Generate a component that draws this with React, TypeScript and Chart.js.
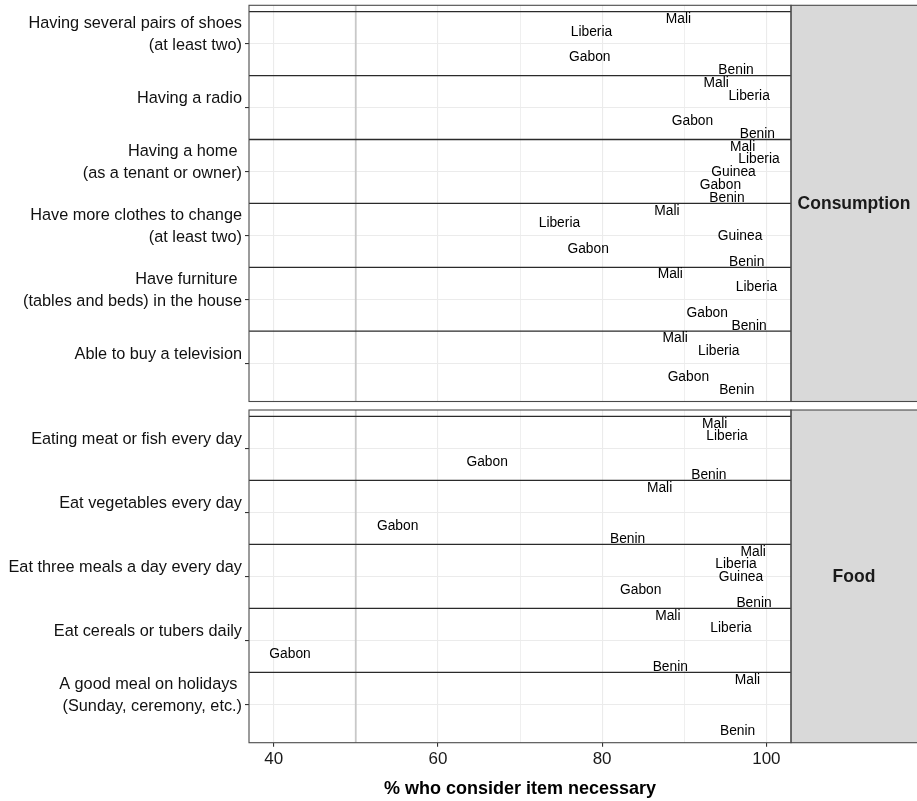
import React, { useEffect, useRef } from 'react';
import { Chart, registerables } from 'chart.js';

Chart.register(...registerables);

const FONT = "'Liberation Sans', Arial, Helvetica, sans-serif";
const W = 917;

const X_MIN = 37;
const X_MAX = 103;
const xTicks = [40, 50, 60, 70, 80, 90, 100];
const xMajorTicks = [40, 60, 80, 100];
const refLine = 50;
const xTitle = '% who consider item necessary';

const countries = ['Mali', 'Liberia', 'Guinea', 'Gabon', 'Benin'];
const countryOffsets = [-0.4, -0.2, 0, 0.2, 0.4];

// Consumption panel
const consumptionItems = [
  ['Having several pairs of shoes', '(at least two)', ''],
  ['Having a radio', ''],
  ['Having a home ', '(as a tenant or owner)', ''],
  ['Have more clothes to change', '(at least two)', ''],
  ['Have furniture ', '(tables and beds) in the house', ''],
  ['Able to buy a television', ''],
];
const consumptionMali = [89.3, 93.9, 97.1, 87.9, 88.3, 88.9];
const consumptionLiberia = [78.7, 97.9, 99.1, 74.8, 98.8, 94.2];
const consumptionGuinea = [null, null, 96.0, 96.8, null, null];
const consumptionGabon = [78.5, 91.0, 94.4, 78.3, 92.8, 90.5];
const consumptionBenin = [96.3, 98.9, 95.2, 97.6, 97.9, 96.4];

// Food panel
const foodItems = [
  ['Eating meat or fish every day', ''],
  ['Eat vegetables every day', ''],
  ['Eat three meals a day every day', ''],
  ['Eat cereals or tubers daily', ''],
  ['A good meal on holidays ', '(Sunday, ceremony, etc.)', ''],
];
const foodMali = [93.7, 87.0, 98.4, 88.0, 97.7];
const foodLiberia = [95.2, null, 96.3, 95.7, null];
const foodGuinea = [null, null, 96.9, null, null];
const foodGabon = [66.0, 55.1, 84.7, 42.0, null];
const foodBenin = [93.0, 83.1, 98.5, 88.3, 96.5];

type PanelOpts = {
  items: string[][];
  series: (number | null)[][];
  strip: string;
  showX: boolean;
  padTop: number;
  padBottom: number;
  xAxisHeight: number;
};

function buildConfig(o: PanelOpts): any {
  const n = o.items.length;
  const yMin = -0.6;
  const yMax = n - 0.4;
  const datasets: any[] = [];

  datasets.push({
    type: 'line',
    label: 'ref',
    data: [{ x: refLine, y: yMin }, { x: refLine, y: yMax }],
    borderColor: '#c8c8c8',
    borderWidth: 1.8,
    pointRadius: 0,
    order: 5,
  });

  o.items.forEach((_, i) => {
    datasets.push({
      type: 'line',
      label: 'sep',
      data: [{ x: X_MIN, y: i - 0.5 }, { x: X_MAX, y: i - 0.5 }],
      borderColor: '#2a2a2a',
      borderWidth: 1.3,
      pointRadius: 0,
      order: 4,
    });
  });

  countries.forEach((c, ci) => {
    const vals = o.series[ci];
    const pts: any[] = [];
    vals.forEach((v, i) => {
      if (v !== null) pts.push({ x: v, y: i + countryOffsets[ci] });
    });
    datasets.push({
      type: 'scatter',
      label: c,
      isCountry: true,
      data: pts,
      pointRadius: 0,
      pointHoverRadius: 0,
      order: 1,
    });
  });

  const textPlugin = {
    id: 'countryText',
    afterDatasetsDraw(chart: any) {
      const ctx = chart.ctx;
      ctx.save();
      const ca = chart.chartArea;
      ctx.beginPath();
      ctx.rect(ca.left, ca.top, ca.right - ca.left, ca.bottom - ca.top);
      ctx.clip();
      ctx.font = `13.8px ${FONT}`;
      ctx.fillStyle = '#000';
      ctx.textAlign = 'center';
      ctx.textBaseline = 'middle';
      chart.data.datasets.forEach((ds: any, di: number) => {
        if (!ds.isCountry) return;
        const meta = chart.getDatasetMeta(di);
        meta.data.forEach((el: any) => {
          ctx.fillText(ds.label, el.x, el.y + 1);
        });
      });
      ctx.restore();
    },
  };

  const framePlugin = {
    id: 'frame',
    afterDraw(chart: any) {
      const ctx = chart.ctx;
      const ca = chart.chartArea;
      ctx.save();
      ctx.fillStyle = '#d9d9d9';
      ctx.fillRect(ca.right, ca.top, W - ca.right + 5, ca.bottom - ca.top);
      ctx.strokeStyle = '#4a4a4a';
      ctx.lineWidth = 1.1;
      ctx.strokeRect(ca.right, ca.top, W - ca.right + 5, ca.bottom - ca.top);
      ctx.fillStyle = '#1a1a1a';
      ctx.font = `bold 17.5px ${FONT}`;
      ctx.textAlign = 'center';
      ctx.textBaseline = 'middle';
      ctx.fillText(o.strip, (ca.right + W) / 2, (ca.top + ca.bottom) / 2 + 1);
      ctx.strokeStyle = '#4a4a4a';
      ctx.lineWidth = 1.1;
      ctx.strokeRect(ca.left, ca.top, ca.right - ca.left, ca.bottom - ca.top);
      ctx.restore();
    },
  };

  return {
    type: 'scatter',
    data: { datasets },
    plugins: [textPlugin, framePlugin],
    options: {
      responsive: false,
      animation: false,
      events: [],
      layout: { padding: { left: 0, right: W - 791, top: o.padTop, bottom: o.padBottom } },
      plugins: { legend: { display: false }, tooltip: { enabled: false } },
      scales: {
        x: {
          type: 'linear',
          min: X_MIN,
          max: X_MAX,
          afterBuildTicks: (s: any) => {
            s.ticks = xTicks.map((v) => ({ value: v }));
          },
          afterFit: (s: any) => {
            s.height = o.xAxisHeight;
            s.paddingLeft = 0;
            s.paddingRight = 0;
          },
          border: { display: false },
          grid: {
            color: '#ebebeb',
            lineWidth: (c: any) => (c.tick && xMajorTicks.includes(c.tick.value) ? 1.1 : 0.8),
            drawTicks: o.showX,
            tickLength: 4,
            tickColor: (c: any) => (c.tick && xMajorTicks.includes(c.tick.value) ? '#333' : 'rgba(0,0,0,0)'),
            tickWidth: 1.1,
          },
          ticks: {
            display: o.showX,
            autoSkip: false,
            maxRotation: 0,
            padding: 2,
            color: '#1a1a1a',
            font: { family: FONT, size: 17 },
            callback: (v: any) => (xMajorTicks.includes(v) ? String(v) : ''),
          },
          title: {
            display: o.showX,
            text: xTitle,
            color: '#000',
            font: { family: FONT, size: 18, weight: 'bold' },
            padding: { top: 0, bottom: 1 },
          },
        },
        y: {
          type: 'linear',
          reverse: true,
          min: yMin,
          max: yMax,
          afterBuildTicks: (s: any) => {
            s.ticks = o.items.map((_, i) => ({ value: i }));
          },
          afterFit: (s: any) => {
            s.width = 249;
            s.paddingTop = 0;
            s.paddingBottom = 0;
          },
          border: { display: false },
          grid: {
            color: '#ebebeb',
            lineWidth: 1.1,
            tickLength: 4,
            tickColor: '#333',
            tickWidth: 1.1,
          },
          ticks: {
            autoSkip: false,
            padding: 3,
            labelOffset: 2,
            color: '#111',
            font: { family: FONT, size: 16.3, lineHeight: 1.35 },
            callback: (v: any) => o.items[v],
          },
        },
      },
    },
  };
}

export default function App() {
  const refA = useRef<HTMLCanvasElement | null>(null);
  const refB = useRef<HTMLCanvasElement | null>(null);

  useEffect(() => {
    const a = new Chart(
      refA.current as HTMLCanvasElement,
      buildConfig({
        items: consumptionItems,
        series: [consumptionMali, consumptionLiberia, consumptionGuinea, consumptionGabon, consumptionBenin],
        strip: 'Consumption',
        showX: false,
        padTop: 5.3,
        padBottom: 3.5,
        xAxisHeight: 0,
      })
    );
    const b = new Chart(
      refB.current as HTMLCanvasElement,
      buildConfig({
        items: foodItems,
        series: [foodMali, foodLiberia, foodGuinea, foodGabon, foodBenin],
        strip: 'Food',
        showX: true,
        padTop: 5,
        padBottom: 0,
        xAxisHeight: 58.3,
      })
    );
    return () => {
      a.destroy();
      b.destroy();
    };
  }, []);

  return (
    <div style={{ position: 'absolute', left: 0, top: 0, width: W, height: 801, background: '#fff' }}>
      <canvas ref={refA} width={W} height={405} style={{ display: 'block', width: W, height: 405 }} />
      <canvas ref={refB} width={W} height={396} style={{ display: 'block', width: W, height: 396 }} />
    </div>
  );
}
